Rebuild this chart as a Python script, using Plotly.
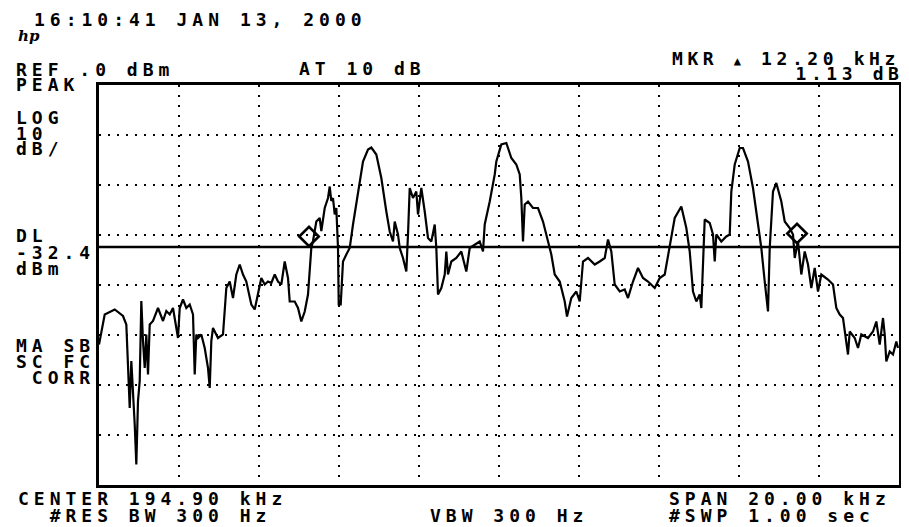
import plotly.graph_objects as go

# ---------------- data ----------------
CENTER_KHZ = 194.90
SPAN_KHZ = 20.00
REF_DBM = 0.0
DB_PER_DIV = 10
N_VDIV = 8
DISPLAY_LINE_DBM = -32.4

freq_khz = [
    184.900, 185.043, 185.293, 185.500, 185.583, 185.625, 185.668, 185.708, 185.750, 185.793,
    185.833, 185.875, 185.918, 185.958, 186.000, 186.043, 186.083, 186.125, 186.168, 186.250,
    186.375, 186.500, 186.583, 186.668, 186.750, 186.875, 186.918, 187.000, 187.083, 187.168,
    187.250, 187.293, 187.333, 187.375, 187.458, 187.543, 187.625, 187.668, 187.708, 187.750,
    187.875, 188.000, 188.083, 188.168, 188.250, 188.333, 188.418, 188.500, 188.583, 188.708,
    188.793, 188.875, 188.958, 189.043, 189.125, 189.208, 189.293, 189.375, 189.458, 189.543,
    189.625, 189.668, 189.793, 189.875, 189.958, 190.043, 190.125, 190.208, 190.250, 190.333,
    190.418, 190.458, 190.543, 190.625, 190.668, 190.708, 190.750, 190.793, 190.833, 190.875,
    190.893, 190.943, 191.000, 191.083, 191.168, 191.250, 191.375, 191.500, 191.625, 191.708,
    191.833, 191.958, 192.083, 192.168, 192.250, 192.293, 192.375, 192.418, 192.500, 192.583,
    192.625, 192.668, 192.750, 192.833, 192.875, 192.958, 193.043, 193.125, 193.208, 193.293,
    193.333, 193.375, 193.458, 193.543, 193.583, 193.625, 193.708, 193.833, 193.958, 194.083,
    194.168, 194.293, 194.418, 194.500, 194.543, 194.668, 194.793, 194.833, 194.958, 195.083,
    195.208, 195.333, 195.418, 195.458, 195.500, 195.543, 195.625, 195.750, 195.875, 196.000,
    196.125, 196.208, 196.293, 196.418, 196.543, 196.600, 196.708, 196.833, 196.918, 197.000,
    197.125, 197.293, 197.418, 197.543, 197.625, 197.708, 197.793, 197.918, 198.043, 198.125,
    198.250, 198.375, 198.500, 198.625, 198.793, 198.918, 199.043, 199.168, 199.293, 199.458,
    199.583, 199.668, 199.750, 199.833, 199.918, 199.958, 200.000, 200.043, 200.168, 200.250,
    200.293, 200.333, 200.458, 200.583, 200.668, 200.708, 200.793, 200.918, 201.000, 201.125,
    201.250, 201.375, 201.458, 201.543, 201.625, 201.668, 201.750, 201.833, 201.958, 202.043,
    202.168, 202.250, 202.293, 202.375, 202.458, 202.543, 202.625, 202.708, 202.793, 202.875,
    202.958, 203.125, 203.250, 203.333, 203.418, 203.500, 203.583, 203.625, 203.668, 203.793,
    203.875, 203.958, 204.125, 204.250, 204.333, 204.418, 204.500, 204.543, 204.583, 204.668,
    204.750, 204.833, 204.875,
]

level_dbm = [
    -51.9, -45.9, -44.9, -46.2, -47.9, -55.2, -64.6, -55.2, -60.6, -67.9,
    -75.9, -63.2, -59.2, -43.2, -51.2, -56.6, -49.9, -57.9, -47.9, -47.2,
    -44.6, -47.2, -45.2, -45.9, -44.6, -50.6, -44.6, -42.9, -44.6, -43.9,
    -45.9, -57.9, -49.9, -50.6, -49.9, -52.6, -56.6, -60.6, -51.2, -48.6,
    -50.6, -49.9, -40.6, -39.3, -42.6, -37.9, -35.9, -37.9, -39.3, -43.9,
    -44.9, -41.9, -38.6, -39.9, -39.3, -39.6, -37.9, -39.3, -39.9, -35.3,
    -38.6, -43.3, -43.3, -44.6, -47.3, -45.3, -41.9, -32.6, -31.2, -27.3,
    -26.6, -29.2, -24.6, -22.6, -20.3, -23.2, -22.6, -25.9, -24.6, -32.6,
    -43.9, -43.9, -35.3, -33.9, -32.6, -27.9, -21.9, -15.3, -12.9, -12.5,
    -13.9, -18.6, -25.3, -29.3, -31.3, -27.3, -29.9, -32.6, -34.6, -37.3,
    -29.9, -20.6, -22.6, -21.3, -25.9, -20.6, -25.3, -30.6, -31.3, -27.9,
    -32.6, -41.9, -40.6, -37.9, -33.3, -37.9, -35.3, -34.6, -33.3, -37.3,
    -32.6, -31.9, -31.3, -33.3, -27.9, -23.3, -17.9, -15.3, -11.9, -11.6,
    -14.6, -15.9, -17.9, -22.6, -31.3, -23.9, -23.3, -24.6, -24.6, -27.3,
    -31.3, -33.9, -37.9, -39.3, -43.3, -46.3, -42.6, -41.3, -43.3, -35.3,
    -34.6, -35.9, -35.3, -34.6, -30.9, -33.3, -39.9, -41.3, -40.9, -42.6,
    -39.3, -36.6, -38.6, -39.3, -40.6, -38.6, -37.9, -32.6, -26.6, -24.3,
    -28.6, -33.3, -41.3, -43.3, -41.9, -44.6, -33.9, -26.9, -27.6, -29.9,
    -35.3, -29.9, -31.3, -30.3, -29.9, -21.3, -15.9, -12.6, -12.6, -15.3,
    -20.6, -27.3, -32.6, -39.3, -45.3, -32.6, -21.3, -19.6, -23.3, -27.3,
    -28.6, -29.9, -34.6, -31.3, -37.9, -33.3, -35.9, -40.6, -36.6, -41.3,
    -37.9, -38.9, -39.9, -44.6, -45.9, -46.6, -51.3, -53.9, -49.3, -50.6,
    -52.6, -49.9, -50.6, -49.3, -47.3, -51.9, -46.6, -49.9, -55.3, -53.3,
    -53.9, -51.3, -52.6,
]

marker_freq_khz = [190.15, 202.35]
marker_level_dbm = [-30.3, -29.7]

# ---------------- figure ----------------
W, H = 909, 527
L, R, T, B = 91, 891, 77, 477

f_start = CENTER_KHZ - SPAN_KHZ / 2
f_stop = CENTER_KHZ + SPAN_KHZ / 2
y_bottom = REF_DBM - DB_PER_DIV * N_VDIV

fig = go.Figure()
fig.add_trace(go.Scatter(
    x=freq_khz, y=level_dbm, mode="lines",
    line=dict(color="black", width=2.2), hoverinfo="skip", showlegend=False,
))
fig.add_trace(go.Scatter(
    x=marker_freq_khz, y=marker_level_dbm, mode="markers",
    marker=dict(symbol="diamond-open", size=15, color="black", line=dict(width=2.6, color="black")),
    hoverinfo="skip", showlegend=False,
))

fig.add_shape(type="line", xref="paper", yref="y", x0=0, x1=1,
              y0=DISPLAY_LINE_DBM, y1=DISPLAY_LINE_DBM,
              line=dict(color="black", width=2.4))

fig.update_xaxes(
    range=[f_start, f_stop], tick0=f_start, dtick=SPAN_KHZ / 10,
    showgrid=True, gridcolor="black", gridwidth=2, griddash="2px,8px",
    showline=True, linecolor="black", linewidth=3, mirror=True,
    zeroline=False, showticklabels=False, ticks="",
)
fig.update_yaxes(
    range=[y_bottom, REF_DBM], tick0=REF_DBM, dtick=DB_PER_DIV,
    showgrid=True, gridcolor="black", gridwidth=2, griddash="2px,7px",
    showline=True, linecolor="black", linewidth=3, mirror=True,
    zeroline=False, showticklabels=False, ticks="",
)

FONT = "DejaVu Sans Mono"
GLYPH_PX = 18
SPACING_PX = 5.0
NB = "\u00a0"


def block(lines, px, py, gap=16.0, spacing=SPACING_PX):
    """Several left-aligned text rows drawn as one block; row pitch = gap pixels."""
    inner = "<br>".join(
        '<span style="font-size:%dpx;letter-spacing:%.1fpx">%s</span>' % (GLYPH_PX, spacing, s)
        for s in lines
    )
    fig.add_annotation(
        x=(px - L) / (R - L), y=(B - py) / (B - T), xref="paper", yref="paper",
        text=inner, showarrow=False, xanchor="left", yanchor="middle", align="left",
        font=dict(family=FONT, size=gap / 1.3, color="black", weight="bold"),
        borderpad=0,
    )


block(["16:10:41 JAN 13, 2000"], 25, 12)
fig.add_annotation(
    x=(9 - L) / (R - L), y=(B - 28) / (B - T), xref="paper", yref="paper",
    text="<i>hp</i>", showarrow=False, xanchor="left", yanchor="middle",
    font=dict(family="DejaVu Serif", size=15, color="black", weight="bold"),
    borderpad=0,
)
block(['MKR <span style="font-size:12px">▲</span> 12.20 kHz', NB * 8 + "1.13 dB"], 663, 58,
      gap=15, spacing=4.6)
block(["REF .0 dBm", "PEAK"], 7, 68.5, gap=15)
block(["AT 10 dB"], 290, 61)

block(["LOG", "10", "dB/"], 7, 125.5, gap=15.5)
block(["DL", "-32.4", "dBm"], 7, 244, gap=16.5)
block(["MA SB", "SC FC", NB + "CORR"], 7, 353, gap=16)

block(["CENTER 194.90 kHz", NB + NB + "#RES BW 300 Hz"], 9, 498.5, gap=17)
block(["VBW 300 Hz"], 421, 507)
block(["SPAN 20.00 kHz", "#SWP 1.00 sec"], 660, 498.5, gap=17)

fig.update_layout(
    width=W, height=H,
    margin=dict(l=L, r=W - R, t=T, b=H - B, pad=0),
    paper_bgcolor="white", plot_bgcolor="white",
    showlegend=False,
)

fig.write_html("out.html")
